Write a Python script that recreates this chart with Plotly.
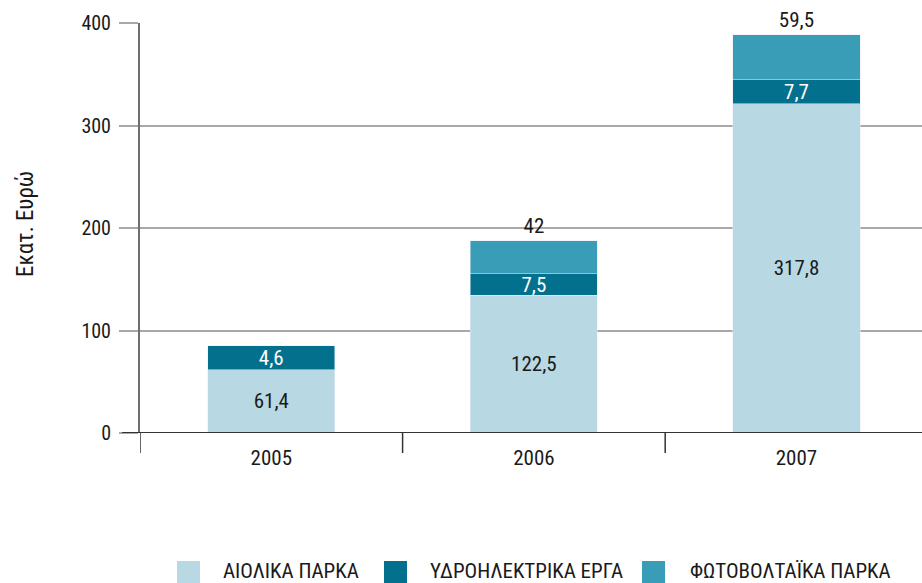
import plotly.graph_objects as go

# ---------------- data ----------------
years = ["2005", "2006", "2007"]
# segment heights as drawn in the picture (Εκατ. Ευρώ)
aiolika = [61.8, 134.2, 321.3]
ydro = [23.4, 21.2, 23.4]
fotovolt = [None, 32.2, 43.9]
# value labels printed on the chart
aiolika_labels = ["61,4", "122,5", "317,8"]
ydro_labels = ["4,6", "7,5", "7,7"]
fotovolt_labels = ["", "42", "59,5"]
series_names = ["ΑΙΟΛΙΚΑ ΠΑΡΚΑ", "ΥΔΡΟΗΛΕΚΤΡΙΚΑ ΕΡΓΑ", "ΦΩΤΟΒΟΛΤΑΪΚΑ ΠΑΡΚΑ"]
y_ticks = [0, 100, 200, 300, 400]
y_title = "Εκατ. Ευρώ"

# ---------------- style ----------------
C_LIGHT = "#b8d8e4"
C_DARK = "#03718e"
C_TEAL = "#3a9db7"
colors = [C_LIGHT, C_DARK, C_TEAL]
FONT = "Roboto Condensed, Liberation Sans Narrow, Arial Narrow, Liberation Sans, sans-serif"
TXT = "#1a1a1a"

W, H = 922, 583
ML, MR, MT, MB = 140, 0, 23, 150
PW, PH = W - ML - MR, H - MT - MB


def px_x(px):
    return (px - ML) / PW


def px_y(py):
    return (H - MB - py) / PH


fig = go.Figure()
fig.add_trace(go.Bar(
    x=years, y=aiolika, name=series_names[0], marker_color=C_LIGHT,
    text=aiolika_labels, textposition="inside", insidetextanchor="middle", textangle=0,
    textfont=dict(color=TXT, size=21, family=FONT), constraintext="none",
    width=0.484, showlegend=False, hoverinfo="skip", cliponaxis=False))
fig.add_trace(go.Bar(
    x=years, y=ydro, name=series_names[1], marker_color=C_DARK,
    text=ydro_labels, textposition="inside", insidetextanchor="middle", textangle=0,
    textfont=dict(color="white", size=21, family=FONT), constraintext="none",
    width=0.484, showlegend=False, hoverinfo="skip", cliponaxis=False))
fig.add_trace(go.Bar(
    x=years, y=fotovolt, name=series_names[2], marker_color=C_TEAL,
    text=fotovolt_labels, textposition="outside", textangle=0,
    textfont=dict(color=TXT, size=21, family=FONT), constraintext="none",
    width=0.484, showlegend=False, hoverinfo="skip", cliponaxis=False))

shapes = []
# dark zero line, extended to the left like the ticks
shapes.append(dict(type="line", xref="paper", yref="y", x0=px_x(122), x1=1, y0=0, y1=0,
                   line=dict(color="#333333", width=2), layer="above"))
# category boundary ticks below the axis
for b in [-0.5, 0.5, 1.5]:
    shapes.append(dict(type="line", xref="x", yref="paper", x0=b, x1=b, y0=0, y1=-20 / PH,
                       line=dict(color="#333333", width=1.5)))

# manual legend
leg_sq_x = [177, 384, 642]
leg_tx_x = [221, 428, 688]
for i in range(3):
    shapes.append(dict(type="rect", xref="paper", yref="paper",
                       x0=px_x(leg_sq_x[i]), x1=px_x(leg_sq_x[i] + 23),
                       y0=px_y(561), y1=px_y(590),
                       fillcolor=colors[i], line=dict(width=0)))
    fig.add_annotation(xref="paper", yref="paper", x=px_x(leg_tx_x[i]), y=px_y(571),
                       xanchor="left", yanchor="middle", text=series_names[i],
                       showarrow=False, font=dict(size=21, color=TXT, family=FONT))

# y axis title
fig.add_annotation(xref="paper", yref="paper", x=px_x(25), y=px_y(224), text=y_title,
                   textangle=-90, showarrow=False, xanchor="center", yanchor="middle",
                   font=dict(size=23, color=TXT, family=FONT))

fig.update_layout(
    width=W, height=H, autosize=False,
    margin=dict(l=ML, r=MR, t=MT, b=MB),
    barmode="stack",
    plot_bgcolor="white", paper_bgcolor="white",
    font=dict(family=FONT, size=19, color=TXT),
    shapes=shapes,
    showlegend=False,
    xaxis=dict(type="category", range=[-0.5, 2.478], showgrid=False, zeroline=False,
               showline=False, ticks="", ticklabelstandoff=10,
               tickfont=dict(size=21, color=TXT, family=FONT)),
    yaxis=dict(range=[0, 400], tickvals=y_ticks, showgrid=True, gridcolor="#a8a8a8",
               gridwidth=1.5, zeroline=False, showline=True, linecolor="#6e6e6e",
               linewidth=2, ticks="outside", ticklen=19, tickcolor="#a8a8a8", tickwidth=1.5,
               ticklabelstandoff=4,
               tickfont=dict(size=20, color=TXT, family=FONT)),
)

fig.write_html("out.html", config={"displayModeBar": False},
               post_script="document.body.style.margin='0';")
